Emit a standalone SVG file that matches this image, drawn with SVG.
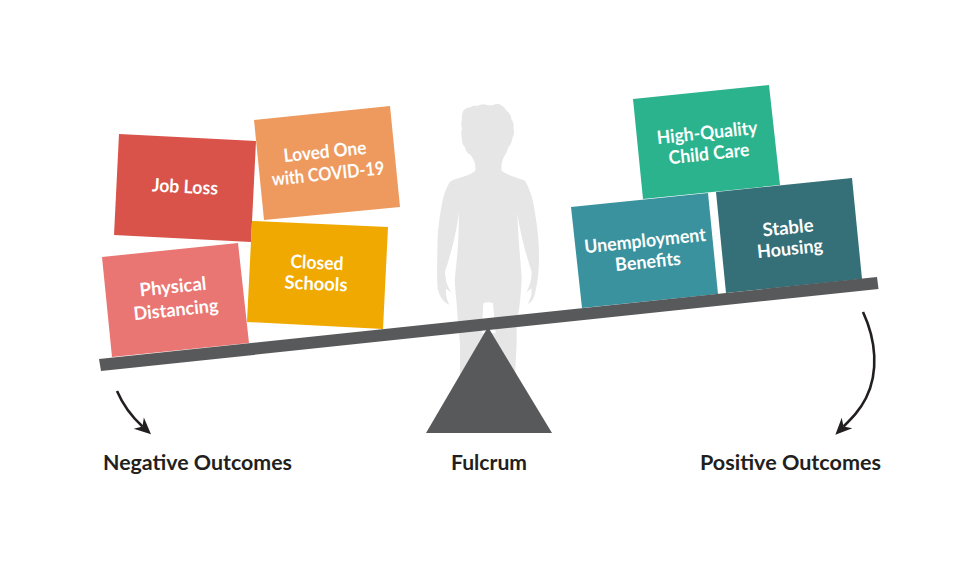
<svg xmlns="http://www.w3.org/2000/svg" width="975" height="573" viewBox="0 0 975 573">
  <style>
    .label { font-family: "Lato", "Noto Sans", sans-serif; font-weight: 700; font-size: 18.500px; fill: #ffffff; text-anchor: middle; }
    .caption { font-family: "Lato", "Noto Sans", sans-serif; font-weight: 700; font-size: 21px; fill: #231f20; text-anchor: middle; }
    .steel { fill: #58595b; }
    .arc { fill: none; stroke: #231f20; stroke-width: 2.600; stroke-linecap: butt; }
  </style>
  <defs>
    <marker id="barb" markerUnits="userSpaceOnUse" markerWidth="22" markerHeight="18" viewBox="-8 -9 22 18" refX="0" refY="0" orient="auto">
      <path d="M11.500,0 L-5,-7.500 L0,0 L-5,7.500 Z" fill="#231f20"/>
    </marker>
  </defs>
  <rect width="975" height="573" fill="#ffffff"/>

  <g id="child">
    <path fill="#e6e6e6" fill-rule="evenodd" transform="translate(400,90) scale(0.3333)" d="M190,62 Q198,52 212,52 Q220,44 232,48 Q245,40 258,44 Q272,48 282,44 Q292,38 302,44 Q314,50 320,62 Q334,72 334,88 Q344,100 340,114 Q346,130 338,142 Q336,160 324,174 Q320,190 312,200 C305,215 303,228 305,242 C325,258 355,262 375,272 C392,300 402,340 405,370 C412,410 418,460 417,510 C416,560 410,590 403,618 C398,632 390,640 384,642 C392,625 397,610 394,595 L378,608 C390,590 395,565 395,545 C380,500 360,430 352,368 C354,430 360,500 365,560 C364,610 358,660 350,700 L350,760 L345,860 L180,860 L180,760 C176,720 172,680 170,640 C166,600 164,580 165,560 C172,500 178,430 176,368 C170,430 150,500 135,545 C136,570 142,590 155,608 L138,596 C136,612 140,628 148,644 C130,638 118,620 113,595 C110,560 112,490 113,440 C116,400 122,360 128,330 C134,305 142,288 150,275 C170,262 205,260 226,242 C228,225 224,212 212,195 Q198,188 194,170 Q184,160 186,146 Q182,130 186,116 Q182,100 186,88 Q184,74 190,62 Z M250,640 L245,730 L287,730 L279,640 C270,636 258,636 250,640 Z"/>
  </g>

  <g id="job-loss">
    <polygon points="119,134 256,141 251,242 114,235" fill="#d9534a"/>
    <text class="label" transform="translate(185,187) rotate(3)" y="6" textLength="66" lengthAdjust="spacingAndGlyphs">Job Loss</text>
  </g>
  <g id="loved-one">
    <polygon points="254,120 390,106 400,207 264,220" fill="#ee9a5f"/>
    <text class="label" transform="translate(325,152) rotate(-5.9)" y="6" textLength="83" lengthAdjust="spacingAndGlyphs">Loved One</text>
    <text class="label" transform="translate(328,174) rotate(-5.9)" y="6" textLength="113" lengthAdjust="spacingAndGlyphs">with COVID-19</text>
  </g>
  <g id="closed-schools">
    <polygon points="252,221 388,227 383,329 247,322" fill="#efa900"/>
    <text class="label" transform="translate(317,263) rotate(2.5)" y="6" textLength="53" lengthAdjust="spacingAndGlyphs">Closed</text>
    <text class="label" transform="translate(316,284) rotate(2.5)" y="6" textLength="63" lengthAdjust="spacingAndGlyphs">Schools</text>
  </g>
  <g id="physical-distancing">
    <polygon points="102,257 238,243 249,343 112,357" fill="#e97673"/>
    <text class="label" transform="translate(173,287) rotate(-5.9)" y="6" textLength="67" lengthAdjust="spacingAndGlyphs">Physical</text>
    <text class="label" transform="translate(176,310) rotate(-5.9)" y="6" textLength="85" lengthAdjust="spacingAndGlyphs">Distancing</text>
  </g>
  <g id="child-care">
    <polygon points="633,99 769,85 780,185 643,199" fill="#2bb38e"/>
    <text class="label" transform="translate(707,133) rotate(-5.9)" y="6" textLength="101" lengthAdjust="spacingAndGlyphs">High-Quality</text>
    <text class="label" transform="translate(709,154) rotate(-5.9)" y="6" textLength="81" lengthAdjust="spacingAndGlyphs">Child Care</text>
  </g>
  <g id="unemployment">
    <polygon points="571,207 708,193 718,294 582,308" fill="#39929e"/>
    <text class="label" transform="translate(645,241) rotate(-5.9)" y="6" textLength="122" lengthAdjust="spacingAndGlyphs">Unemployment</text>
    <text class="label" transform="translate(648,262) rotate(-5.9)" y="6" textLength="66" lengthAdjust="spacingAndGlyphs">Benefits</text>
  </g>
  <g id="housing">
    <polygon points="716,192 852,178 862,279 726,293" fill="#357079"/>
    <text class="label" transform="translate(788,228) rotate(-5.9)" y="6" textLength="51" lengthAdjust="spacingAndGlyphs">Stable</text>
    <text class="label" transform="translate(790,249) rotate(-5.9)" y="6" textLength="66" lengthAdjust="spacingAndGlyphs">Housing</text>
  </g>

  <g id="seesaw">
    <polygon class="steel" points="99,359 877,277 878.500,289 101,371"/>
    <polygon class="steel" points="488,327 552,433 426,433"/>
  </g>

  <g id="connectors">
    <path class="arc" d="M117,391 C123,405 131,416 142.500,426.500" marker-end="url(#barb)"/>
    <path class="arc" d="M863,312 C876,340 879,372 866,398 C860,410 852,418 843.500,426.500" marker-end="url(#barb)"/>
  </g>

  <g id="captions">
    <text class="caption" x="197.500" y="470" textLength="189" lengthAdjust="spacingAndGlyphs">Negative Outcomes</text>
    <text class="caption" x="489" y="470" textLength="76" lengthAdjust="spacingAndGlyphs">Fulcrum</text>
    <text class="caption" x="790.500" y="470" textLength="181" lengthAdjust="spacingAndGlyphs">Positive Outcomes</text>
  </g>
</svg>
